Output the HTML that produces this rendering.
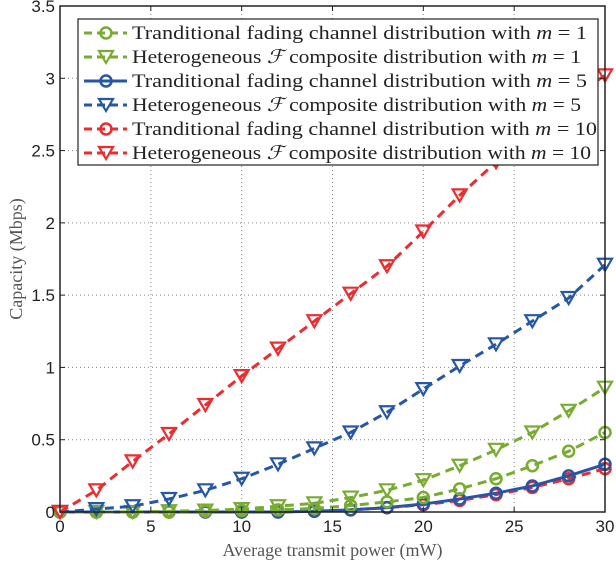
<!DOCTYPE html>
<html><head><meta charset="utf-8"><style>
body{margin:0;background:#fff}
svg{display:block}
.tk{font-family:"Liberation Sans",sans-serif;font-size:17px;fill:#222}
.lb{font-family:"Liberation Serif",serif;font-size:18px;fill:#555}
.lg{font-family:"Liberation Serif",serif;font-size:19px;fill:#222}
</style></head><body>
<svg id="chart" width="616" height="564"></svg>
<script>
const xs=[0,2,4,6,8,10,12,14,16,18,20,22,24,26,28,30];
const greenTrad=[0,0,0,0,0.005,0.01,0.015,0.025,0.045,0.07,0.1,0.16,0.23,0.32,0.42,0.55];
const greenHet=[0,0,0,0.005,0.01,0.02,0.04,0.06,0.1,0.15,0.22,0.32,0.43,0.55,0.7,0.86];
const blueTrad=[0,0,0,0,0,0,0,0.005,0.015,0.03,0.055,0.09,0.13,0.18,0.25,0.33];
const blueHet=[0,0.02,0.04,0.09,0.15,0.23,0.33,0.44,0.55,0.69,0.85,1.01,1.16,1.32,1.48,1.71];
const redTrad=[0,0,0,0,0,0,0,0.005,0.015,0.03,0.05,0.08,0.12,0.17,0.23,0.30];
const redHet=[0,0.15,0.35,0.54,0.74,0.94,1.13,1.32,1.51,1.7,1.94,2.19,2.42,2.65,2.85,3.02];
const xTicks=[0,5,10,15,20,25,30];
const yTicks=[0,0.5,1,1.5,2,2.5,3,3.5];
const yTickLabels=["0","0.5","1","1.5","2","2.5","3","3.5"];
const L=60,R=605,T=6,B=512;
const X=v=>L+(v/30)*(R-L), Y=v=>B-(v/3.5)*(B-T);
const G="#77ac30",BL="#2656a8",RD="#ee2b2f";
const svg=document.getElementById('chart');
const NS="http://www.w3.org/2000/svg";
function mk(t,a,p){const e=document.createElementNS(NS,t);for(const k in a)e.setAttribute(k,a[k]);(p||svg).appendChild(e);return e;}
xTicks.forEach(v=>{if(v>0&&v<30){const l=mk('line',{x1:X(v),x2:X(v),y1:T,y2:B,stroke:'#888','stroke-width':1,'stroke-dasharray':'1,3'});

}});
yTicks.forEach(v=>{if(v>0&&v<3.5){const l=mk('line',{x1:L,x2:R,y1:Y(v),y2:Y(v),stroke:'#888','stroke-width':1,'stroke-dasharray':'1,3'});

}});
const series=[
 {d:redTrad,c:RD,m:'o',dash:'9,6',n:'series-trad-m10'},
 {d:blueTrad,c:BL,m:'o',dash:'',n:'series-trad-m5'},
 {d:greenTrad,c:G,m:'o',dash:'9,6',n:'series-trad-m1'},
 {d:greenHet,c:G,m:'v',dash:'9,6',n:'series-het-m1'},
 {d:blueHet,c:BL,m:'v',dash:'9,6',n:'series-het-m5'},
 {d:redHet,c:RD,m:'v',dash:'9,6',n:'series-het-m10'}];
function marker(m,x,y,c,g){
 if(m==='o'){mk('circle',{cx:x,cy:y,r:5.5,fill:'none',stroke:c,'stroke-width':2.5},g);}
 else{mk('polygon',{points:`${x-7},${y-6} ${x+7},${y-6} ${x},${y+6}`,fill:'none',stroke:c,'stroke-width':2.2},g);}
}
series.forEach(s=>{
 const g=mk('g',{});
 
 
 const pts=xs.map((x,i)=>X(x)+','+Y(s.d[i])).join(' ');
 const a={points:pts,fill:'none',stroke:s.c,'stroke-width':3};
 if(s.dash)a['stroke-dasharray']=s.dash;
 mk('polyline',a,g);
 xs.forEach((x,i)=>marker(s.m,X(x),Y(s.d[i]),s.c,g));
});
const bx=mk('rect',{x:L,y:T,width:R-L,height:B-T,fill:'none',stroke:'#222','stroke-width':1.5});


xTicks.forEach(v=>{mk('line',{x1:X(v),x2:X(v),y1:B,y2:B-5,stroke:'#222'});mk('line',{x1:X(v),x2:X(v),y1:T,y2:T+5,stroke:'#222'});
 const t=mk('text',{x:X(v),y:B+20,'text-anchor':'middle',class:'tk'});t.textContent=v;
 
 });
yTicks.forEach((v,i)=>{mk('line',{x1:L,x2:L+5,y1:Y(v),y2:Y(v),stroke:'#222'});mk('line',{x1:R,x2:R-5,y1:Y(v),y2:Y(v),stroke:'#222'});
 const t=mk('text',{x:L-5,y:Y(v)+6,'text-anchor':'end',class:'tk'});t.textContent=yTickLabels[i];
 
 });
const xt=mk('text',{x:(L+R)/2,y:556,'text-anchor':'middle',class:'lb'});xt.textContent='Average transmit power (mW)';


const yt=mk('text',{x:0,y:0,'text-anchor':'middle',class:'lb',transform:`translate(22,${(T+B)/2}) rotate(-90)`});yt.textContent='Capacity (Mbps)';


const lg=mk('g',{});


mk('rect',{x:78,y:19,width:520,height:146,fill:'#fff',stroke:'#222','stroke-width':1.2},lg);
const labels=[
 ['Tranditional fading channel distribution with ','m',' = 1',G,'o','9,6',455],
 ['Heterogeneous ','\u2131',' composite distribution with ',G,'v','9,6',449,'m',' = 1'],
 ['Tranditional fading channel distribution with ','m',' = 5',BL,'o','',455],
 ['Heterogeneous ','\u2131',' composite distribution with ',BL,'v','9,6',449,'m',' = 5'],
 ['Tranditional fading channel distribution with ','m',' = 10',RD,'o','9,6',465],
 ['Heterogeneous ','\u2131',' composite distribution with ',RD,'v','9,6',459,'m',' = 10']];
labels.forEach((r,i)=>{
 const y=33+i*24;
 const e=mk('g',{},lg);
 
 
 const a={x1:84,x2:127,y1:y,y2:y,stroke:r[3],'stroke-width':3};if(r[5])a['stroke-dasharray']='8,5';
 mk('line',a,e);marker(r[4],106,y,r[3],e);
 const t=mk('text',{x:132,y:y+6,class:'lg',textLength:r[6],lengthAdjust:'spacingAndGlyphs'},e);
 const parts=r[4]==='o'?[[r[0],0],[r[1],1],[r[2],0]]:[[r[0],0],[r[1],1],[r[2],0],[r[7],1],[r[8],0]];
 parts.forEach(p=>{const s=mk('tspan',{},t);if(p[1])s.setAttribute('font-style','italic');s.textContent=p[0];});
});
</script>
</body></html>
